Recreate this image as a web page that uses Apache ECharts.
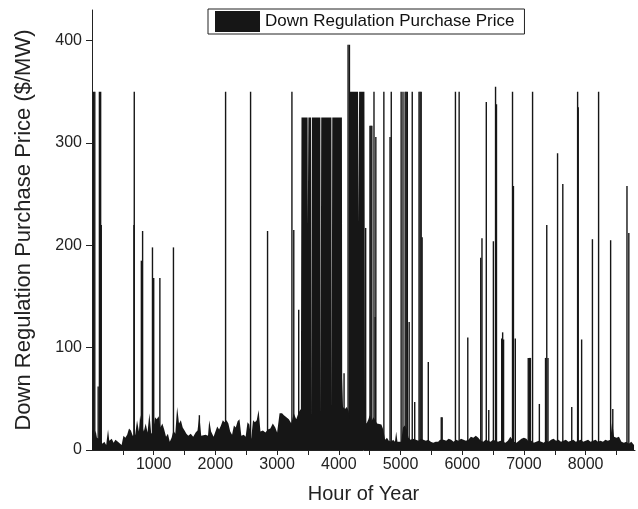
<!DOCTYPE html>
<html>
<head>
<meta charset="utf-8">
<script src="https://cdn.jsdelivr.net/npm/echarts@6/dist/echarts.min.js"></script>
<style>
  html, body { margin: 0; padding: 0; background: #fff; }
  #chart { width: 638px; height: 509px; }
</style>
</head>
<body>
<div id="chart"></div>
<script>
// hourly price: dense low band plus the wide 325/350 blocks
const baseline = [
  [0, 18], [20, 20], [40, 14], [60, 19], [80, 12], [110, 13], [140, 10], [170, 6], [200, 8], [230, 5],
  [260, 20], [280, 9], [320, 11], [350, 7], [380, 10], [420, 8], [450, 9], [480, 5], [510, 14], [540, 12],
  [570, 15], [600, 21], [630, 19], [660, 14], [700, 15], [730, 29], [760, 18], [780, 34], [810, 24], [840, 18],
  [870, 26], [900, 17], [930, 36], [960, 16], [990, 18], [1020, 32], [1050, 30], [1080, 33], [1110, 22], [1140, 26],
  [1170, 20], [1200, 13], [1230, 16], [1260, 8], [1290, 12], [1320, 19], [1350, 16], [1380, 42], [1410, 26], [1440, 29],
  [1470, 22], [1500, 19], [1530, 16], [1560, 14], [1600, 16], [1640, 13], [1680, 17], [1710, 19], [1740, 34], [1770, 14],
  [1800, 13], [1840, 15], [1880, 14], [1900, 29], [1930, 18], [1970, 13], [2000, 14], [2030, 23], [2060, 20], [2090, 24],
  [2120, 29], [2150, 27], [2180, 29], [2210, 26], [2240, 18], [2270, 15], [2300, 24], [2330, 22], [2360, 28], [2390, 30],
  [2420, 14], [2460, 15], [2490, 13], [2520, 27], [2550, 25], [2580, 11], [2610, 29], [2640, 27], [2670, 29], [2700, 39],
  [2730, 18], [2770, 19], [2810, 17], [2850, 20], [2890, 21], [2930, 26], [2970, 22], [3000, 17], [3040, 36], [3080, 36],
  [3110, 34], [3150, 32], [3190, 30], [3230, 26], [3270, 36], [3310, 30], [3350, 37], [3385, 40],
  [3395, 325], [3494, 325], [3497, 220], [3504, 220], [3507, 325], [3549, 325], [3552, 32], [3560, 32], [3563, 325],
  [3701, 325], [3704, 34], [3712, 34], [3715, 325], [3880, 325], [3883, 36], [3891, 36], [3894, 325], [4050, 325],
  [4055, 70], [4068, 42], [4100, 40], [4130, 42], [4160, 38], [4175, 30],
  [4180, 350], [4312, 350], [4315, 220], [4326, 220], [4329, 350], [4415, 350],
  [4425, 28], [4450, 26], [4480, 30], [4500, 34], [4530, 28], [4560, 32], [4590, 29], [4620, 26], [4650, 27], [4690, 25],
  [4720, 20], [4750, 10], [4780, 12], [4810, 9], [4850, 8], [4880, 10], [4910, 8], [4930, 18], [4950, 8], [4980, 9],
  [5010, 8], [5040, 22], [5070, 24], [5100, 20], [5130, 12], [5160, 10], [5200, 11], [5250, 10], [5290, 9], [5330, 11],
  [5370, 10], [5410, 9], [5450, 10], [5490, 8], [5530, 7], [5570, 8], [5610, 8], [5640, 10], [5700, 10], [5740, 9],
  [5780, 11], [5820, 10], [5860, 8], [5900, 10], [5940, 9], [5980, 11], [6020, 10], [6060, 9], [6100, 10], [6140, 13],
  [6180, 12], [6220, 14], [6260, 12], [6300, 9], [6340, 8], [6380, 10], [6420, 9], [6460, 8], [6500, 10], [6540, 9],
  [6580, 8], [6620, 9], [6660, 8], [6700, 7], [6740, 9], [6780, 13], [6810, 12], [6840, 8], [6880, 7], [6920, 9],
  [6960, 11], [7000, 12], [7040, 11], [7080, 8], [7120, 9], [7160, 7], [7200, 8], [7240, 9], [7280, 8], [7320, 7],
  [7360, 9], [7400, 8], [7440, 10], [7480, 11], [7520, 9], [7560, 10], [7600, 8], [7640, 9], [7680, 10], [7720, 8],
  [7760, 9], [7800, 10], [7840, 8], [7880, 9], [7920, 10], [7960, 8], [8000, 9], [8040, 10], [8080, 8], [8120, 9],
  [8160, 10], [8200, 8], [8240, 9], [8280, 8], [8320, 10], [8360, 9], [8400, 10], [8430, 28], [8460, 13], [8500, 12],
  [8540, 13], [8580, 8], [8620, 7], [8660, 8], [8700, 6], [8740, 8], [8784, 5]
];

// single-hour spikes
const spikes = [
  [25, 350], [45, 350], [100, 62], [120, 350], [140, 350], [150, 220], [680, 220], [685, 350],
  [800, 185], [820, 214], [980, 198], [1000, 168], [1100, 168], [1320, 198], [1740, 34],
  [2165, 350], [2570, 350], [2845, 214], [3240, 350], [3270, 215], [3350, 137], [4085, 75],
  [4150, 396], [4172, 396], [4435, 217], [4505, 317], [4520, 317], [4535, 317], [4570, 350],
  [4590, 130], [4600, 306], [4730, 350], [4830, 306], [4850, 350], [5010, 350], [5040, 350],
  [5075, 350], [5092, 350], [5110, 350], [5140, 125], [5190, 350], [5230, 47], [5300, 350],
  [5318, 350], [5335, 350], [5350, 208], [5450, 86], [5660, 32], [5675, 32], [5890, 350],
  [5950, 350], [6090, 110], [6300, 188], [6320, 207], [6390, 340], [6430, 39], [6505, 204],
  [6540, 355], [6555, 338], [6640, 109], [6655, 115], [6670, 108], [6815, 350], [6830, 258],
  [6860, 109], [7070, 90], [7090, 90], [7105, 90], [7140, 350], [7250, 45], [7350, 90],
  [7370, 220], [7390, 90], [7545, 290], [7630, 260], [7775, 42], [7870, 350], [7880, 335],
  [7935, 108], [8110, 206], [8210, 350], [8405, 205], [8440, 40], [8670, 258], [8700, 212]
];

const xTicks = [500, 1000, 1500, 2000, 2500, 3000, 3500, 4000, 4500, 5000, 5500, 6000, 6500, 7000, 7500, 8000, 8500];
const xLabels = [1000, 2000, 3000, 4000, 5000, 6000, 7000, 8000];
const yTicks = [0, 100, 200, 300, 400];

const NAME = 'Down Regulation Purchase Price';
const INK = '#161616';
const FONT = '"Liberation Sans", Arial, sans-serif';

const chart = echarts.init(document.getElementById('chart'));

chart.setOption({
  animation: false,
  textStyle: { fontFamily: FONT },
  grid: { left: 92, right: 3, top: 10, bottom: 59 },
  legend: {
    data: [NAME],
    left: 208,
    top: 9,
    icon: 'rect',
    itemWidth: 45,
    itemHeight: 21,
    itemGap: 5,
    padding: [2, 10, 2, 7],
    borderColor: '#222',
    borderWidth: 1,
    textStyle: { fontSize: 17, color: '#111', fontFamily: FONT }
  },
  xAxis: {
    type: 'value',
    min: 0,
    max: 8800,
    name: 'Hour of Year',
    nameLocation: 'middle',
    nameGap: 34,
    nameTextStyle: { fontSize: 20, color: '#222', fontFamily: FONT },
    axisLine: { lineStyle: { color: '#222', width: 1 } },
    axisTick: { customValues: xTicks, length: 5, lineStyle: { color: '#222' } },
    axisLabel: {
      customValues: xLabels, fontSize: 16, color: '#222', margin: 7,
      formatter: (v) => String(v)
    },
    splitLine: { show: false }
  },
  yAxis: {
    type: 'value',
    min: 0,
    max: 430,
    name: 'Down Regulation Purchase Price ($/MW)',
    nameLocation: 'middle',
    nameGap: 57,
    nameTextStyle: { fontSize: 22, color: '#222', fontFamily: FONT },
    axisLine: { show: true, lineStyle: { color: '#222', width: 1 } },
    axisTick: { show: true, customValues: yTicks, length: 6, lineStyle: { color: '#222' } },
    axisLabel: { customValues: yTicks, fontSize: 16, color: '#222', margin: 10 },
    splitLine: { show: false }
  },
  series: [
    {
      name: NAME,
      type: 'line',
      data: baseline,
      showSymbol: false,
      lineStyle: { width: 0 },
      itemStyle: { color: INK },
      areaStyle: { color: INK, opacity: 1 }
    },
    {
      name: NAME,
      type: 'bar',
      data: spikes,
      barWidth: 1.4,
      itemStyle: { color: INK }
    }
  ]
});
</script>
</body>
</html>
